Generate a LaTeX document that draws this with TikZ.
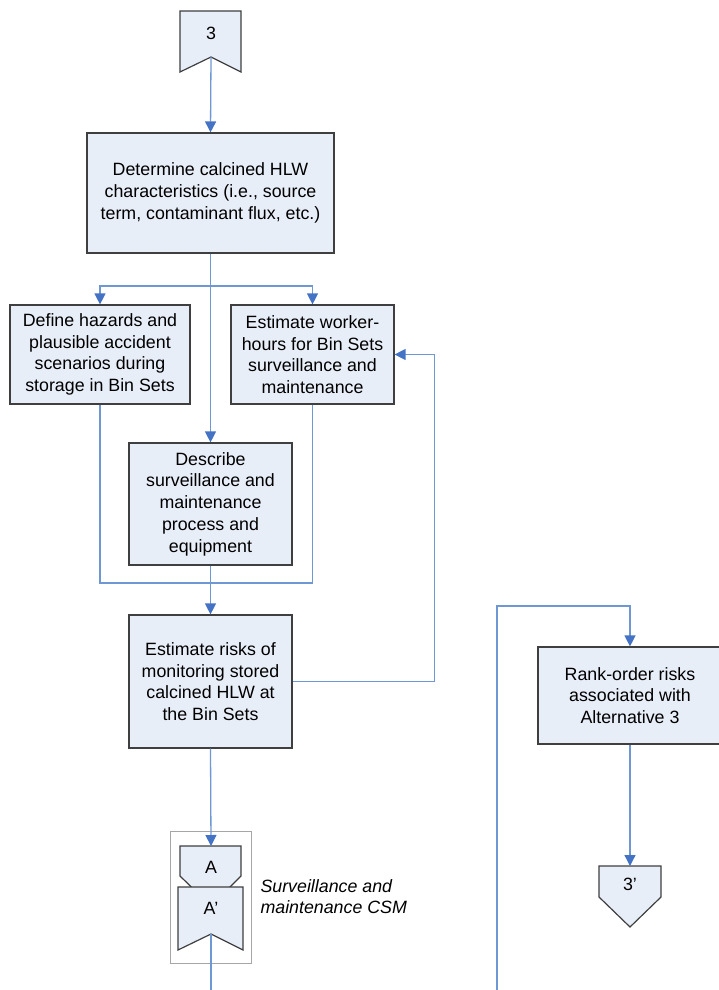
\documentclass[tikz,border=0pt]{standalone}
\usepackage{fontspec}
\setmainfont{Liberation Sans}
\usetikzlibrary{arrows.meta}
\definecolor{boxfill}{HTML}{E8EEF8}
\definecolor{boxline}{HTML}{3F3F3F}
\definecolor{flow}{HTML}{6F97D4}
\definecolor{tipblue}{HTML}{4472C4}
\definecolor{frame}{HTML}{A6A6A6}
\begin{document}
\begin{tikzpicture}[x=1pt,y=-1pt,
  txt/.style={font=\fontsize{17.8}{21.7}\selectfont},
  procbox/.style={txt,draw=boxline,fill=boxfill,line width=1.2pt,align=center,inner sep=0pt},
  conn/.style={draw=boxline,fill=boxfill,line width=1.2pt,line join=miter},
  flowline/.style={draw=flow,line width=1.3pt},
  arr/.style={flowline,-{Triangle[length=11pt,width=11pt,color=tipblue]}}]
\useasboundingbox (0,0) rectangle (719,990);

% off-page connector 3 at the top
\draw[conn] (180,11) -- (241,11) -- (241,72) -- (211,57) -- (180,72) -- cycle;
\coordinate (c3notch) at (211,57);
\node[txt] (c3) at (211,33) {3};

% process boxes
\node[procbox,minimum width=247pt,minimum height=120pt] (det) at (210.5,193)
  {Determine calcined HLW\\characteristics (i.e., source\\term, contaminant flux, etc.)};
\node[procbox,minimum width=180pt,minimum height=99pt] (def) at (100,354.5)
  {Define hazards and\\plausible accident\\scenarios during\\storage in Bin Sets};
\node[procbox,minimum width=163pt,minimum height=99pt] (est) at (312.5,354.5)
  {Estimate worker-\\hours for Bin Sets\\surveillance and\\maintenance};
\node[procbox,minimum width=163pt,minimum height=122pt] (desc) at (210.5,504)
  {Describe\\surveillance and\\maintenance\\process and\\equipment};
\node[procbox,minimum width=163pt,minimum height=133pt] (risk) at (210.5,681.5)
  {Estimate risks of\\monitoring stored\\calcined HLW at\\the Bin Sets};
\node[procbox,minimum width=184pt,minimum height=97pt] (rank) at (630,695.5)
  {Rank-order risks\\associated with\\Alternative 3};

% connector pair A / A'
\draw[draw=frame,line width=0.9pt] (170,831) rectangle (251,963);
\draw[conn] (180,846) -- (241,846) -- (241,876) -- (211,906) -- (180,876) -- cycle;
\coordinate (Atop) at (211,846);
\node[txt] (A) at (211,867) {A};
\draw[conn] (178,887) -- (243,887) -- (243,950) -- (211,934) -- (178,950) -- cycle;
\coordinate (Apnotch) at (211,934);
\node[txt] (Ap) at (211,908) {A’};
\node[txt,font=\fontsize{17.8}{21.7}\selectfont\itshape,align=left,anchor=west] (csm) at (257,896.5)
  {Surveillance and\\maintenance CSM};

% off-page connector 3'
\draw[conn] (599,866) -- (661,866) -- (661,897) -- (630,927) -- (599,897) -- cycle;
\coordinate (c3ptop) at (630,866);
\node[txt] (c3p) at (630,884) {3’};

% flow lines
\coordinate (split) at (211,286);
\coordinate (merge) at (211,583);
\coordinate (aout) at (211,990);
\coordinate (rbottom) at (497,990);
\coordinate (rturn) at (497,606);

\draw[arr] (c3notch) -- (det.north);
\draw[arr] (det.south) -- (desc.north);
\draw[arr] (split) -| (def.north);
\draw[arr] (split) -| (est.north);
\draw[flowline] (def.south) |- (merge) -| (est.south);
\draw[arr] (desc.south) -- (risk.north);
\draw[arr] (risk.east) -- ++(142,0) |- (est.east);
\draw[arr] (risk.south) -- (Atop);
\draw[flowline] (Apnotch) -- (aout);
\draw[arr] (rbottom) -- (rturn) -| (rank.north);
\draw[arr] (rank.south) -- (c3ptop);
\end{tikzpicture}
\end{document}
